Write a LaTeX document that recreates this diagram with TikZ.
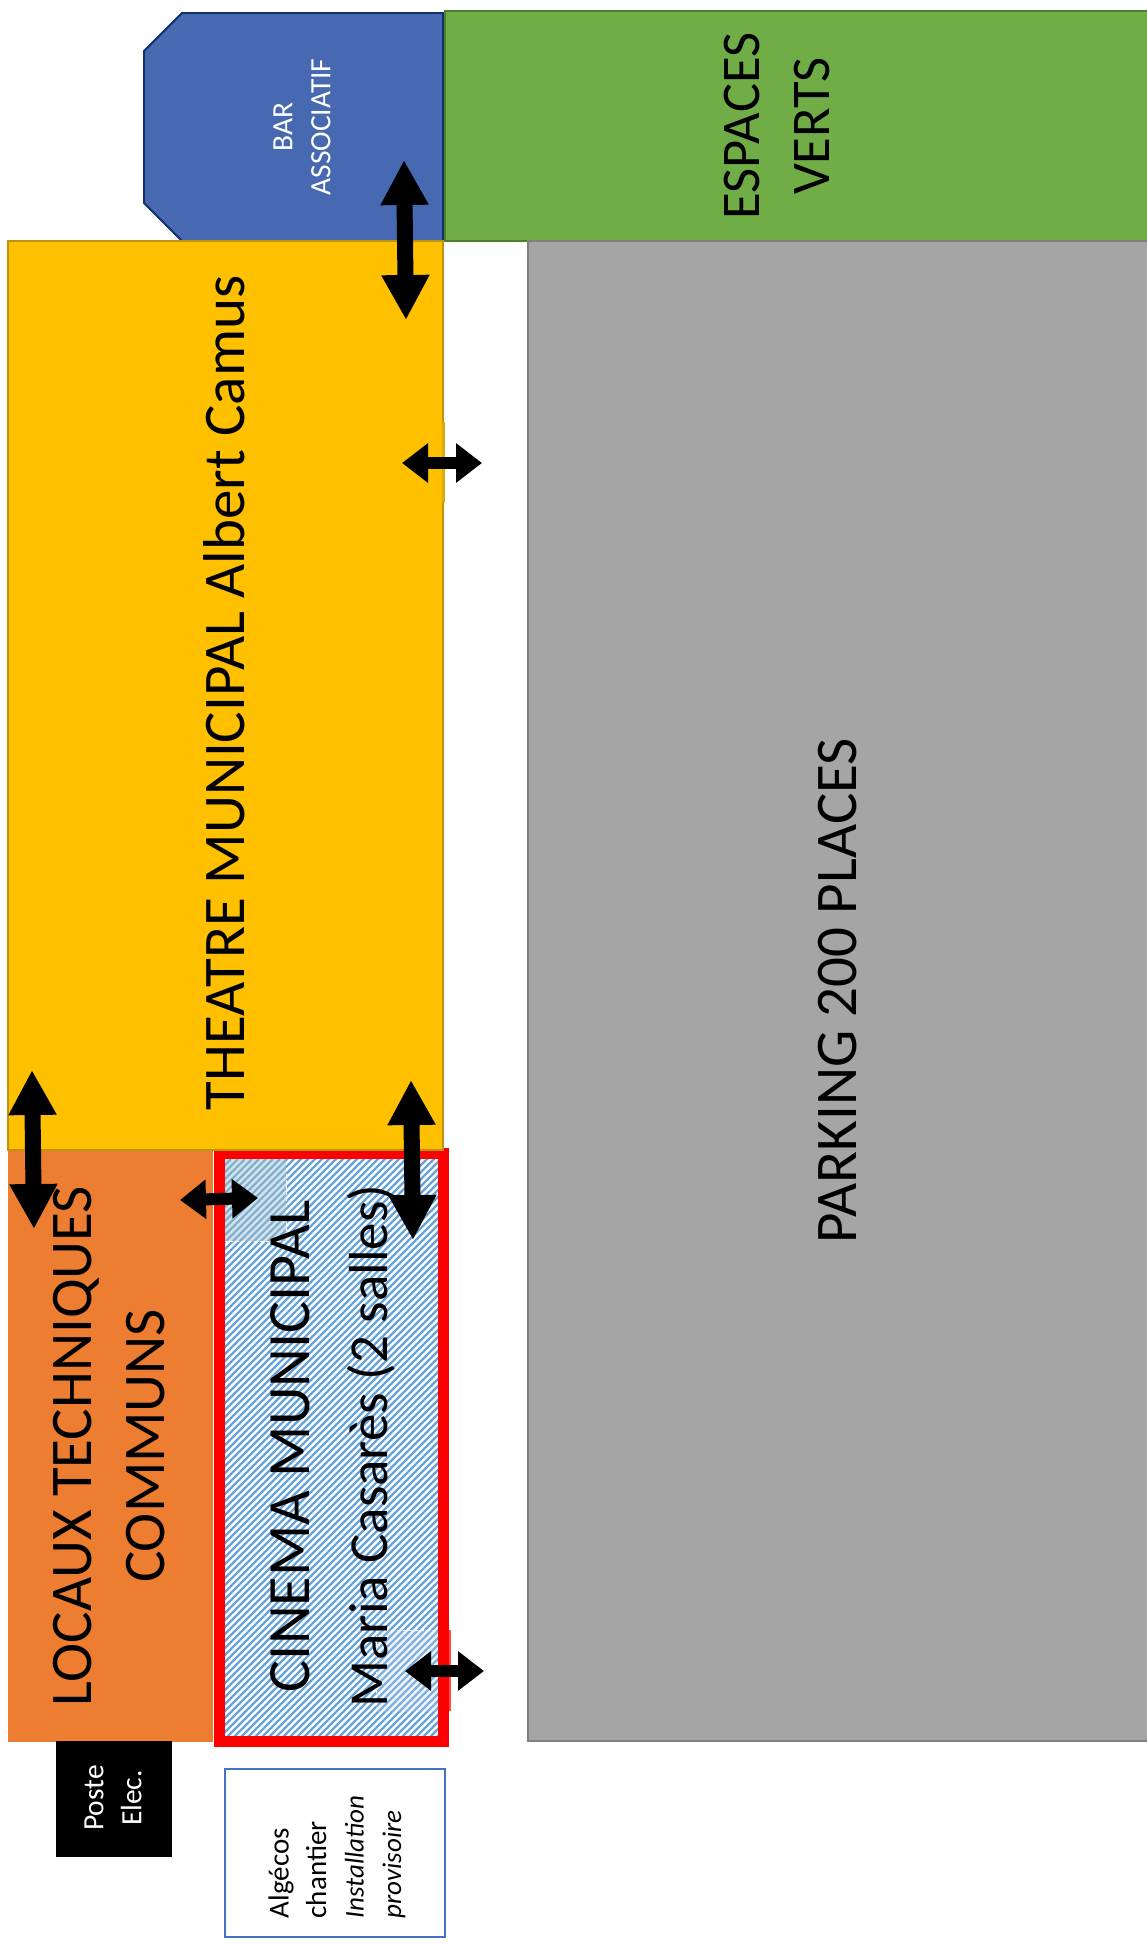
\documentclass[tikz,border=0pt]{standalone}
\usepackage{fontspec}
\setmainfont{Carlito}
\usetikzlibrary{arrows.meta}
\definecolor{cyellow}{HTML}{FFC000}
\definecolor{cyellowb}{HTML}{BC9412}
\definecolor{corange}{HTML}{ED7D31}
\definecolor{cgreen}{HTML}{70AD47}
\definecolor{cgreenb}{HTML}{507E32}
\definecolor{cbar}{HTML}{4669B2}
\definecolor{cbarb}{HTML}{12306E}
\definecolor{cgrey}{HTML}{A5A5A5}
\definecolor{cgreyb}{HTML}{7F7F7F}
\definecolor{calg}{HTML}{4472C4}
\definecolor{chatch}{HTML}{66A3DA}
\definecolor{cred}{HTML}{FF0000}
\definecolor{patchline}{HTML}{8AADC8}
\definecolor{patchbg}{HTML}{CBE6F2}
\definecolor{patchlineb}{HTML}{7FB0DE}
\definecolor{patchbgb}{HTML}{F0F6FB}
\tikzset{
  lbl/.style={rotate=90,align=center,inner sep=0pt,text=black},
  big/.style={font=\fontsize{59}{73}\selectfont},
  cine/.style={font=\fontsize{60}{78}\selectfont},
  mid/.style={font=\fontsize{54.5}{70}\selectfont},
  small/.style={font=\fontsize{29.5}{38}\selectfont},
  algtext/.style={font=\fontsize{29}{37.5}\selectfont},
  bigarrow/.style={line width=16pt,{Triangle[length=45pt,width=45pt]}-{Triangle[length=45pt,width=45pt]}},
  smallarrow/.style={line width=12pt,{Triangle[length=26pt,width=38pt]}-{Triangle[length=26pt,width=38pt]}},
}
\newcommand{\hatchlines}[6]{%
  \begin{scope}
    \clip (#1,#2) rectangle (#3,#4);
    \fill[#6] (#1,#2) rectangle (#3,#4);
    \foreach \i in {0,...,150}
      \draw[#5,line width=2.4pt] ({#1+\i*7},#2) -- ({#1+\i*7-700},{#2+700});
  \end{scope}}
\begin{document}
\begin{tikzpicture}[x=1pt,y=-1pt]
\useasboundingbox (0,0) rectangle (1147,1946);
\fill[white] (0,0) rectangle (1147,1946);
% green, bar
\draw[fill=cgreen,draw=cgreenb,line width=1.6pt] (445,11) rectangle (1160,241);
\draw[fill=cbar,draw=cbarb,line width=1.8pt] (182,13) -- (443,13) -- (443,241) -- (182,241) -- (144,203) -- (144,51) -- cycle;
% cinema
\hatchlines{221}{1155}{441}{1740}{chatch}{white}
\hatchlines{224}{1159}{286}{1241}{patchline}{patchbg}
\hatchlines{376}{1630}{437}{1711}{patchlineb}{patchbgb}
\draw[white,line width=.7pt,dashed] (224,1241) -- (286,1241) -- (286,1159);
\draw[white,line width=.7pt,dashed] (376,1711) -- (376,1630) -- (437,1630);
\fill[cred!70!white] (440,1630) rectangle (451,1711);
\draw[cred,line width=11pt] (219,1153) rectangle (443,1741);
% theatre
\draw[fill=cyellow,draw=cyellowb,line width=1.4pt] (8,241) rectangle (443,1150);
\fill[cyellowb!50!cyellow] (442,422) rectangle (444.5,503);
% locaux, parking
\fill[corange] (8,1151) rectangle (213,1742);
\draw[fill=cgrey,draw=cgreyb,line width=1.6pt] (528,241) rectangle (1160,1741);
% poste, algecos
\fill[black] (56,1741) rectangle (172,1857);
\draw[draw=calg,fill=white,line width=1.6pt] (225,1769) rectangle (445,1937);
% labels
\node[lbl,mid] (espaces) at (776.5,126) {ESPACES\\VERTS};
\node[lbl,small,text=white] (bar) at (302,127) {BAR\\ASSOCIATIF};
\node[lbl,big] (theatre) at (224,693) {THEATRE MUNICIPAL Albert Camus};
\node[lbl,big] (parking) at (838,991) {PARKING 200 PLACES};
\node[lbl,big] (locaux) at (109,1446) {LOCAUX TECHNIQUES\\COMMUNS};
\node[lbl,cine] (cinema) at (333,1446) {CINEMA MUNICIPAL\\{\fontsize{55}{78}\selectfont Maria Casarès (2 salles)}};
\node[lbl,small,text=white] (poste) at (113,1798) {Poste\\Elec.};
\node[lbl,algtext,align=left] (algecos) at (337,1857) {Algécos\\chantier\\{\fontsize{27}{37.5}\selectfont\itshape Installation}\\{\fontsize{27}{37.5}\selectfont\itshape provisoire}};
% arrows
\coordinate (a1) at (404,160); \coordinate (a2) at (406,320);
\coordinate (b1) at (402,463); \coordinate (b2) at (482,463);
\coordinate (c1) at (32,1070); \coordinate (c2) at (34,1229);
\coordinate (d1) at (411,1080); \coordinate (d2) at (413,1240);
\coordinate (e1) at (180,1200); \coordinate (e2) at (258,1198);
\coordinate (f1) at (405,1671); \coordinate (f2) at (484,1671);
\draw[bigarrow] (a1) -- (a2);
\draw[smallarrow] (b1) -- (b2);
\draw[bigarrow] (c1) -- (c2);
\draw[bigarrow] (d1) -- (d2);
\draw[smallarrow] (e1) -- (e2);
\draw[smallarrow] (f1) -- (f2);
\end{tikzpicture}
\end{document}
